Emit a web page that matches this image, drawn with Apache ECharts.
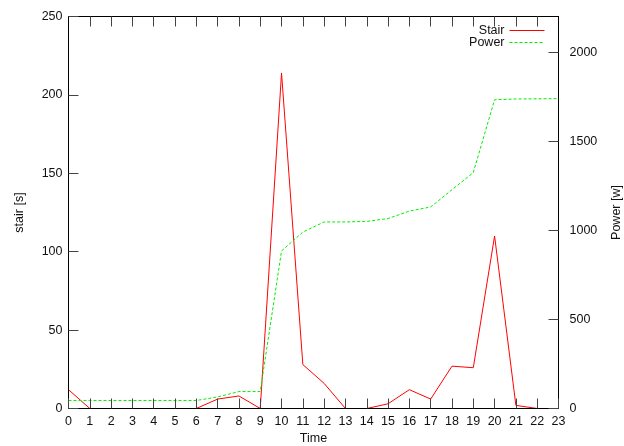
<!DOCTYPE html>
<html>
<head>
<meta charset="utf-8">
<script src="https://cdn.jsdelivr.net/npm/echarts@6/dist/echarts.min.js"></script>
<style>
  html, body { margin: 0; padding: 0; background: #fff; }
  #main { width: 624px; height: 446px; }
</style>
</head>
<body>
<div id="main"></div>
<script>
// hours on the x axis
const hours = [0, 1, 2, 3, 4, 5, 6, 7, 8, 9, 10, 11, 12, 13, 14, 15, 16, 17, 18, 19, 20, 21, 22, 23];
// stair time [s], left axis
const stair = [12, 0, 0, 0, 0, 0, 0, 6, 8, 0, 214, 28, 16, 0, 0, 3, 12, 6, 27, 26, 110, 2, 0, 0];
// power [w], right axis
const power = [45, 45, 45, 45, 45, 45, 45, 65, 95, 95, 884, 990, 1047, 1047, 1050, 1066, 1108, 1131, 1228, 1324, 1733, 1737, 1738, 1739];

const FONT = "Liberation Sans";
const INK = "#111";
const TICK = 10;

function pairs(ys) {
  let out = [];
  for (let i = 0; i < hours.length; ++i) {
    out.push([hours[i], ys[i]]);
  }
  return out;
}

function axisText() {
  return { fontFamily: FONT, fontSize: 12.5, color: INK };
}
function tick() {
  return { show: true, inside: true, length: TICK, lineStyle: { color: "#444" } };
}
const plain = function(v) { return String(v); };

var chart = echarts.init(document.getElementById("main"), null, { renderer: "canvas" });
chart.setOption({
  animation: false,
  textStyle: { fontFamily: FONT },
  grid: { left: 68.5, right: 65.5, top: 16.5, bottom: 37.5, containLabel: false, outerBoundsMode: "none" },
  legend: {
    orient: "vertical",
    right: 74,
    top: 19,
    align: "right",
    itemWidth: 35,
    itemHeight: 8,
    itemGap: -1,
    itemStyle: { opacity: 0 },
    lineStyle: { width: 1 },
    textStyle: { fontFamily: FONT, fontSize: 12.5, color: INK },
    data: ["Stair", "Power"]
  },
  xAxis: [
    {
      type: "value",
      min: 0, max: 23, interval: 1,
      position: "bottom",
      z: 5,
      name: "Time",
      nameLocation: "middle",
      nameGap: 24,
      nameMoveOverlap: false,
      nameTextStyle: axisText(),
      axisLine: { show: true, onZero: false, lineStyle: { color: "#000" } },
      axisTick: tick(),
      axisLabel: Object.assign({ margin: 7, formatter: plain }, axisText()),
      splitLine: { show: false }
    },
    {
      type: "value",
      min: 0, max: 23, interval: 1,
      position: "top",
      axisLine: { show: true, onZero: false, lineStyle: { color: "#000" } },
      axisTick: tick(),
      axisLabel: { show: false },
      splitLine: { show: false }
    }
  ],
  yAxis: [
    {
      type: "value",
      min: 0, max: 250, interval: 50,
      position: "left",
      z: 5,
      name: "stair [s]",
      nameLocation: "middle",
      nameGap: 42,
      nameRotate: 90,
      nameMoveOverlap: false,
      nameTextStyle: axisText(),
      axisLine: { show: true, onZero: false, lineStyle: { color: "#000" } },
      axisTick: tick(),
      axisLabel: Object.assign({ margin: 6, formatter: plain }, axisText()),
      splitLine: { show: false }
    },
    {
      type: "value",
      min: 0, max: 2200, interval: 500,
      position: "right",
      z: 5,
      name: "Power [w]",
      nameLocation: "middle",
      nameGap: 52,
      nameRotate: 90,
      nameMoveOverlap: false,
      nameTextStyle: axisText(),
      axisLine: { show: true, onZero: false, lineStyle: { color: "#000" } },
      axisTick: tick(),
      axisLabel: Object.assign({ margin: 11, showMaxLabel: false, formatter: plain }, axisText()),
      splitLine: { show: false }
    }
  ],
  series: [
    {
      name: "Stair",
      type: "line",
      xAxisIndex: 0,
      yAxisIndex: 0,
      symbol: "none",
      lineStyle: { color: "#ff0000", width: 1 },
      itemStyle: { color: "#ff0000" },
      data: pairs(stair)
    },
    {
      name: "Power",
      type: "line",
      xAxisIndex: 0,
      yAxisIndex: 1,
      symbol: "none",
      lineStyle: { color: "#00ee00", width: 1, type: [3, 2] },
      itemStyle: { color: "#00ee00" },
      data: pairs(power)
    }
  ]
});
</script>
</body>
</html>
